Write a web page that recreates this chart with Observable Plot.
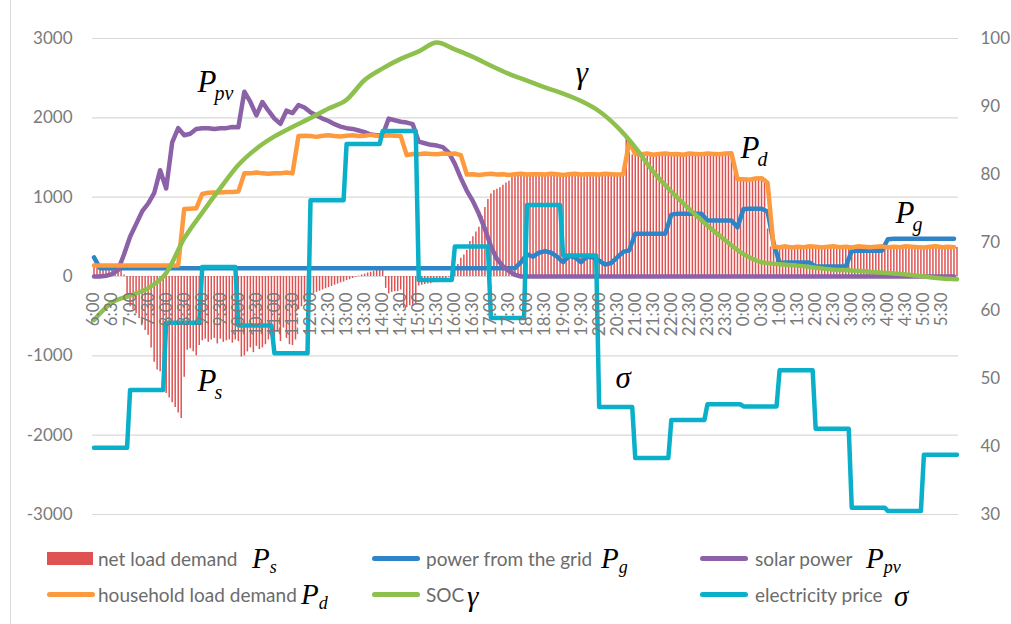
<!DOCTYPE html>
<html><head><meta charset="utf-8">
<script src="https://cdn.jsdelivr.net/npm/d3@7"></script>
<script src="https://cdn.jsdelivr.net/npm/@observablehq/plot@0.6"></script>
<style>
body{margin:0;background:#fff;}
#wrap{position:relative;width:1011px;height:624px;overflow:hidden;font-family:Lato,sans-serif;}
#frame{position:absolute;left:10px;top:0;width:1px;height:624px;background:#d9d9d9;}
#chart{position:absolute;left:0;top:0;}
.lg{position:absolute;white-space:nowrap;line-height:1;transform:translateY(-50%);}
.lt{font-size:19px;color:#6b6b6b;}
.lm{font-family:"Liberation Serif",serif;font-style:italic;color:#000;font-size:29px;}
.lm sub{font-size:18px;vertical-align:-0.3em;}
</style></head><body>
<div id="wrap"><div id="frame"></div><div id="chart"></div><div id="legend"></div></div>
<script>
// ---- tick labels ----
const hourLabels = ["6:00","6:30","7:00","7:30","8:00","8:30","9:00","9:30","10:00","10:30","11:00","11:30","12:00","12:30","13:00","13:30","14:00","14:30","15:00","15:30","16:00","16:30","17:00","17:30","18:00","18:30","19:00","19:30","20:00","20:30","21:00","21:30","22:00","22:30","23:00","23:30","0:00","0:30","1:00","1:30","2:00","2:30","3:00","3:30","4:00","4:30","5:00","5:30"];
const leftTicks = [-3000,-2000,-1000,0,1000,2000,3000];
const rightTicks = [30,40,50,60,70,80,90,100];

// ---- net load demand Ps, every 5 min from 6:00 ----
const netLoad = [
 130,135,130,135,130,125,120,115,100,80,20,-250,
 -380,-420,-470,-530,-600,-680,-740,-900,-1080,-1180,-1200,-1350,
 -1475,-1530,-1590,-1650,-1720,-1790,-1270,-930,-910,-950,-1000,-870,
 -810,-790,-830,-800,-780,-850,-790,-830,-810,-800,-840,-800,
 -820,-1015,-1000,-950,-900,-960,-880,-920,-900,-860,-800,-760,
 -760,-700,-820,-650,-780,-860,-870,-800,-420,-380,-330,-280,
 -240,-220,-200,-185,-170,-155,-140,-125,-110,-95,-80,-70,
 -50,-40,-25,-10,5,20,30,45,55,65,80,100,
 110,-150,-220,-200,-190,-190,-170,-400,-390,-370,-380,-350,
 -120,-110,-100,-95,-90,-80,-70,-60,-70,-40,-10,40,
 80,150,230,270,330,440,500,560,620,760,870,970,
 1040,1085,1100,1120,1150,1180,1200,1250,1270,1280,1280,1270,
 1275,1260,1280,1270,1265,1280,1270,1260,1275,1280,1265,1270,
 1280,1270,1265,1275,1280,1270,1260,1275,1270,1280,1265,1275,
 1270,1280,1265,1275,1270,1280,1270,1265,1280,1760,1560,1530,
 1535,1525,1540,1530,1520,1535,1540,1525,1530,1535,1520,1530,
 1540,1525,1530,1535,1520,1530,1540,1525,1535,1530,1520,1535,
 1530,1540,1525,1530,1535,1525,1540,1530,1530,1300,1220,1230,
 1225,1240,1220,1230,1235,1240,1230,1235,600,370,360,370,
 365,360,370,355,365,370,360,365,355,370,360,365,
 360,370,365,355,370,360,365,370,355,365,370,360,
 365,355,370,360,365,370,360,355,370,365,360,370,
 360,370,355,365,370,360,365,355,370,360,365,370,
 365,360,370,355,365,370,360,365,370,355,360,365
];

// ---- 10-minute series from 6:00 ----
const gridPower = [
 240,105,105,105,105,105,105,105,105,105,
 105,105,105,105,105,105,105,105,105,105,
 105,105,105,105,105,105,105,105,105,105,
 105,105,105,105,105,105,105,105,105,105,
 105,105,105,105,105,105,105,105,105,105,
 105,105,105,105,105,105,105,105,105,105,
 105,105,105,105,105,105,105,105,105,105,
 105,180,280,250,300,320,300,250,180,260,
 240,180,250,240,200,150,170,240,310,330,
 540,540,540,540,540,540,780,790,790,790,
 790,790,705,705,705,705,705,620,850,855,
 855,855,820,420,170,175,175,175,175,175,
 125,125,125,125,125,125,320,325,325,325,
 325,325,470,475,475,475,475,475,475,475,
 475,475,475,475
];
const solarPower = [
 0,0,10,30,80,280,500,660,820,920,
 1050,1340,1110,1690,1870,1780,1800,1860,1870,1870,
 1860,1870,1870,1885,1880,2330,2200,2030,2200,2090,
 1990,1925,2090,2060,2160,2130,2070,2030,1990,1960,
 1920,1890,1870,1860,1840,1820,1790,1780,1780,1990,
 1970,1950,1940,1920,1700,1680,1660,1650,1630,1560,
 1420,1240,1080,950,790,600,380,220,130,70,
 20,0,0,0,0,0,0,0,0,0,
 0,0,0,0,0,0,0,0,0,0,
 0,0,0,0,0,0,0,0,0,0,
 0,0,0,0,0,0,0,0,0,0,
 0,0,0,0,0,0,0,0,0,0,
 0,0,0,0,0,0,0,0,0,0,
 0,0,0,0,0,0,0,0,0,0,
 0,0,0,0
];
const householdLoad = [
 140,140,140,140,140,140,140,140,140,140,
 140,140,140,140,140,850,855,860,1040,1055,
 1060,1060,1065,1065,1070,1300,1300,1310,1300,1295,
 1300,1300,1310,1300,1770,1775,1770,1760,1775,1780,
 1770,1765,1775,1780,1770,1775,1785,1775,1770,1780,
 1775,1770,1530,1545,1540,1550,1545,1540,1550,1545,
 1550,1530,1285,1290,1280,1290,1295,1285,1290,1280,
 1290,1295,1285,1290,1290,1285,1295,1290,1280,1290,
 1295,1285,1290,1290,1285,1295,1290,1285,1290,1700,
 1545,1540,1550,1535,1545,1550,1540,1545,1535,1550,
 1545,1540,1550,1545,1540,1550,1555,1230,1225,1220,
 1235,1240,1180,375,370,380,365,375,370,380,
 375,365,375,380,370,375,365,380,375,370,
 375,380,365,375,370,380,375,370,365,375,
 380,370,375,370
];

// ---- SOC (%) every 30 min from 6:00, plus value at 5:55 ----
const soc = [58.6,61.2,62.2,63.3,65.5,70.6,74.4,78.0,81.4,83.8,85.6,87.0,88.3,89.7,91.0,93.9,95.6,97.0,98.1,99.4,98.4,97.3,96.0,94.8,93.8,92.8,91.9,90.8,89.3,87.0,84.0,80.4,77.5,74.9,72.5,70.3,68.3,67.1,66.8,66.6,66.3,66.0,65.9,65.7,65.5,65.3,65.0,64.7];
const socEnd = 64.6;

// ---- electricity price, hourly from 6:00 ----
const price = [39.8,48.3,58.2,66.4,57.8,53.7,76.2,84.5,86.4,64.5,69.4,58.9,75.5,68.1,45.8,38.3,43.9,46.2,45.9,51.2,42.6,31.0,30.5,38.8];

// ---- annotations (time in hours after 6:00, value on left axis) ----
const annotations = [
 {t:2.87, v:2320, base:"P", sub:"pv"},
 {t:13.35, v:2440, base:"γ", sub:""},
 {t:17.92, v:1490, base:"P", sub:"d"},
 {t:22.21, v:670, base:"P", sub:"g"},
 {t:2.87, v:-1440, base:"P", sub:"s"},
 {t:14.45, v:-1410, base:"σ", sub:""}
];

const C = {red:"#DF5252", blue:"#2E84C6", purple:"#8B62A8", orange:"#FD9A3E", green:"#8DC04C", cyan:"#0AB0CA"};
const toLeft = v => (v - 65) * 6000 / 70;

const bars = netLoad.map((v,i)=>({t:i/12, v}));
const tenMin = arr => arr.map((v,j)=>({t:j/6, v}));
const socPts = soc.map((v,k)=>({t:k/2, v:toLeft(v)})).concat([{t:287/12, v:toLeft(socEnd)}]);
const pricePts = price.flatMap((v,h)=>[{t:h, v:toLeft(v)},{t:h+11/12, v:toLeft(v)}]);

const lineOpts = (stroke)=>({x:"t", y:"v", stroke, strokeWidth:4.5, strokeLinejoin:"round", strokeLinecap:"round"});

const chart = Plot.plot({
  width:1011, height:540,
  marginLeft:92, marginRight:53, marginTop:38, marginBottom:26,
  style:{fontFamily:"Lato, sans-serif", fontSize:"17px", color:"#7a7a7a", background:"transparent"},
  x:{domain:[-1/24, 24-1/24], axis:null},
  y:{domain:[-3000,3000], axis:null},
  marks:[
    Plot.ruleY(leftTicks, {stroke:"#d9d9d9", strokeWidth:1.2}),
    Plot.axisY(leftTicks, {anchor:"left", label:null, tickSize:0, tickPadding:20, tickFormat:d=>String(d), fontSize:17}),
    Plot.axisY(rightTicks.map(toLeft), {anchor:"right", label:null, tickSize:0, tickPadding:22, tickFormat:d=>String(Math.round(65 + d*70/6000)), fontSize:17}),
    Plot.ruleX(bars, {x:"t", y1:0, y2:"v", stroke:C.red, strokeWidth:1.5}),
    Plot.line(tenMin(gridPower), lineOpts(C.blue)),
    Plot.line(tenMin(solarPower), lineOpts(C.purple)),
    Plot.line(tenMin(householdLoad), lineOpts(C.orange)),
    Plot.line(socPts, {...lineOpts(C.green), curve:"monotone-x"}),
    Plot.line(pricePts, lineOpts(C.cyan)),
    Plot.text(hourLabels, {x:(d,i)=>i/2, y:0, text:d=>d, rotate:-90, textAnchor:"end", dy:16, fill:"#7a7a7a", fontSize:17}),
    Plot.text(annotations, {x:"t", y:"v", text:"base", textAnchor:"start", lineAnchor:"bottom", fill:"#000", fontFamily:"Liberation Serif, serif", fontStyle:"italic", fontSize:31}),
    Plot.text(annotations.filter(d=>d.sub), {x:"t", y:"v", text:"sub", textAnchor:"start", lineAnchor:"bottom", dx:17, dy:8, fill:"#000", fontFamily:"Liberation Serif, serif", fontStyle:"italic", fontSize:20})
  ]
});
document.getElementById("chart").appendChild(chart);

// ---- legend ----
const legendItems = [
  {label:"net load demand", base:"P", sub:"s", color:C.red, kind:"rect"},
  {label:"power from the grid", base:"P", sub:"g", color:C.blue, kind:"line"},
  {label:"solar power", base:"P", sub:"pv", color:C.purple, kind:"line"},
  {label:"household load demand", base:"P", sub:"d", color:C.orange, kind:"line"},
  {label:"SOC", base:"γ", sub:"", color:C.green, kind:"line"},
  {label:"electricity price", base:"σ", sub:"", color:C.cyan, kind:"line"}
];
const legendLayout = [
  {sx:47, tx:98, mx:252, y:558},
  {sx:372, tx:426, mx:601, y:558},
  {sx:700, tx:755, mx:866, y:558},
  {sx:47, tx:98, mx:301, y:594},
  {sx:372, tx:426, mx:467, y:594},
  {sx:700, tx:755, mx:894, y:594}
];
const lg = document.getElementById("legend");
legendItems.forEach((d,i)=>{
  const p = legendLayout[i];
  const sw = document.createElement("div");
  sw.style.position = "absolute";
  sw.style.left = p.sx + "px";
  sw.style.background = d.color;
  if (d.kind === "rect") { sw.style.top = (p.y-6)+"px"; sw.style.width="46px"; sw.style.height="13px"; }
  else { sw.style.top = (p.y-2.5)+"px"; sw.style.width="48px"; sw.style.height="5px"; sw.style.borderRadius="3px"; }
  lg.appendChild(sw);
  const t = document.createElement("div");
  t.className = "lg lt"; t.style.left = p.tx+"px"; t.style.top = p.y+"px";
  t.textContent = d.label; lg.appendChild(t);
  const m = document.createElement("div");
  m.className = "lg lm"; m.style.left = p.mx+"px"; m.style.top = (p.y+2)+"px";
  m.innerHTML = d.base + (d.sub ? "<sub>"+d.sub+"</sub>" : "");
  lg.appendChild(m);
});
</script></body></html>
